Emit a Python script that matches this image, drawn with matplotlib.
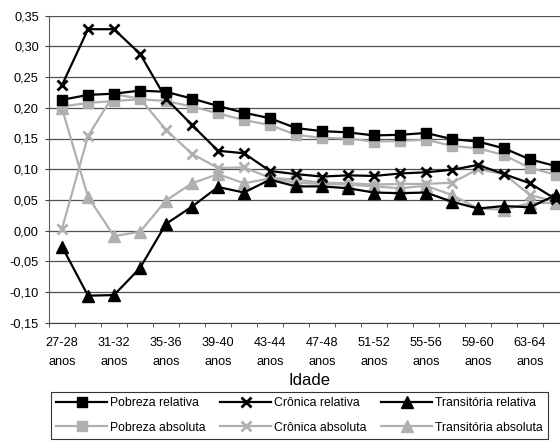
import matplotlib
matplotlib.use("Agg")
import matplotlib.pyplot as plt
from matplotlib.ticker import FixedLocator, FuncFormatter

plt.rcParams['font.family'] = ['Liberation Sans', 'DejaVu Sans']

idades = ["27-28", "29-30", "31-32", "33-34", "35-36", "37-38", "39-40", "41-42",
          "43-44", "45-46", "47-48", "49-50", "51-52", "53-54", "55-56", "57-58",
          "59-60", "61-62", "63-64", "65-66"]

pobreza_relativa = [0.213, 0.221, 0.223, 0.228, 0.226, 0.215, 0.203, 0.192, 0.183, 0.167,
                    0.162, 0.160, 0.155, 0.156, 0.159, 0.149, 0.145, 0.134, 0.116, 0.105]
cronica_relativa = [0.237, 0.328, 0.328, 0.288, 0.215, 0.172, 0.130, 0.126, 0.097, 0.092,
                    0.088, 0.090, 0.089, 0.093, 0.095, 0.099, 0.107, 0.092, 0.077, 0.051]
transitoria_relativa = [-0.026, -0.106, -0.105, -0.061, 0.011, 0.039, 0.071, 0.062, 0.083, 0.072,
                        0.072, 0.069, 0.062, 0.061, 0.062, 0.047, 0.036, 0.040, 0.038, 0.058]
pobreza_absoluta = [0.202, 0.208, 0.211, 0.214, 0.211, 0.202, 0.191, 0.180, 0.172, 0.156,
                    0.151, 0.150, 0.145, 0.146, 0.148, 0.138, 0.134, 0.123, 0.102, 0.091]
cronica_absoluta = [0.003, 0.154, 0.222, 0.215, 0.164, 0.125, 0.102, 0.103, 0.086, 0.083,
                    0.078, 0.077, 0.075, 0.076, 0.076, 0.078, 0.100, 0.092, 0.058, 0.047]
transitoria_absoluta = [0.199, 0.055, -0.009, -0.002, 0.049, 0.077, 0.092, 0.077, 0.085, 0.078,
                        0.076, 0.075, 0.072, 0.069, 0.073, 0.058, 0.036, 0.034, 0.045, 0.045]

yticks = [-0.15, -0.10, -0.05, 0.00, 0.05, 0.10, 0.15, 0.20, 0.25, 0.30, 0.35]

BLACK = "#000000"
GRAY = "#b0b0b0"
FS = 9.2
FS_LEG = 8.8

W, H = 560, 442
fig = plt.figure(figsize=(W / 100, H / 100), dpi=100)
# axes extend past the right edge of the canvas
ax = fig.add_axes([49 / W, 1 - 322.7 / H, 520 / W, 307 / H])

x = list(range(len(idades)))
lw = 1.6
h_pr, = ax.plot(x, pobreza_relativa, color=BLACK, lw=lw, marker='s', ms=7, zorder=6,
                label="Pobreza relativa")
h_cr, = ax.plot(x, cronica_relativa, color=BLACK, lw=lw, marker='x', ms=7, mew=2.0, zorder=6,
                label="Crônica relativa")
h_tr, = ax.plot(x, transitoria_relativa, color=BLACK, lw=lw, marker='^', ms=8, zorder=6,
                label="Transitória relativa")
h_pa, = ax.plot(x, pobreza_absoluta, color=GRAY, lw=lw, marker='s', ms=7, zorder=5,
                label="Pobreza absoluta")
h_ca, = ax.plot(x, cronica_absoluta, color=GRAY, lw=lw, marker='x', ms=7, mew=2.0, zorder=5,
                label="Crônica absoluta")
h_ta, = ax.plot(x, transitoria_absoluta, color=GRAY, lw=lw, marker='^', ms=8, zorder=5,
                label="Transitória absoluta")

ax.set_xlim(-0.5, len(idades) - 0.5)
ax.set_ylim(-0.15, 0.35)
ax.set_yticks(yticks)
ax.yaxis.set_major_formatter(FuncFormatter(lambda v, p: f"{v:.2f}".replace(".", ",")))
ax.grid(axis='y', color='#505050', lw=0.9, zorder=0)
ax.set_axisbelow(True)

ax.set_xticks(x[::2])
ax.set_xticklabels([f"{c}\nanos" for c in idades[::2]], fontsize=FS, linespacing=1.72)
ax.xaxis.set_minor_locator(FixedLocator([i - 0.5 for i in range(len(idades) + 1)]))
ax.tick_params(axis='x', which='major', length=0, pad=10.5)
ax.tick_params(axis='x', which='minor', length=3, direction='out', color='#404040')
ax.tick_params(axis='y', length=3, direction='out', labelsize=FS, color='#404040', pad=4.3)

for s in ['top', 'right']:
    ax.spines[s].set_visible(False)
ax.spines['left'].set_color('#606060')
ax.spines['bottom'].set_color('#404040')

fig.text(309 / W, 1 - 385 / H, "Idade", ha='center', va='baseline', fontsize=12)

leg = fig.legend(handles=[h_pr, h_pa, h_cr, h_ca, h_tr, h_ta], ncol=3,
                 loc='upper left', bbox_to_anchor=(51 / W, 1 - 392 / H),
                 fontsize=FS_LEG, frameon=True, fancybox=False, edgecolor='black',
                 handlelength=4.2, columnspacing=1.15, handletextpad=0.25,
                 borderpad=0.4, labelspacing=1.05, borderaxespad=0)
leg.get_frame().set_linewidth(0.8)

fig.savefig("out.png", dpi=100)
